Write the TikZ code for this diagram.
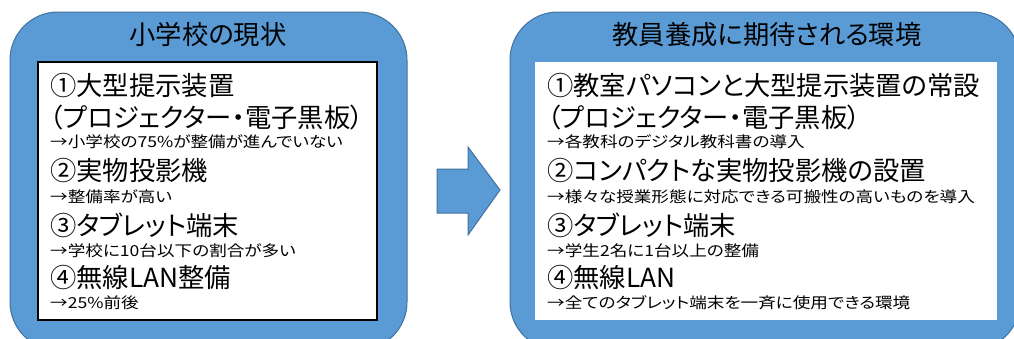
\documentclass[tikz,border=0pt]{standalone}
\usepackage{graphicx}
\usepackage{fontspec}
\setmainfont{Noto Sans CJK JP}[RawFeature=+palt]
\definecolor{boxblue}{HTML}{5B9BD5}
\definecolor{edgeblue}{HTML}{41719C}
\newcommand\squash[1]{\scalebox{1}[0.86]{#1}}
\begin{document}
\begin{tikzpicture}[x=1pt,y=-1pt,
  outer/.style={fill=boxblue,draw=edgeblue,line width=1pt,rounded corners=48pt},
  big/.style={anchor=base west,inner sep=0pt,font=\fontsize{26.3}{30}\selectfont},
  small/.style={anchor=base west,inner sep=0pt,font=\fontsize{17.6}{20}\selectfont},
  ttl/.style={anchor=base,inner sep=0pt,font=\fontsize{26.3}{30}\selectfont}]
\useasboundingbox (0,0) rectangle (1014,338);
% left panel
\draw[outer] (10,12) rectangle (407,350);
\draw[fill=white,draw=black,line width=1.2pt] (38,62) rectangle (377,320);
\node[ttl] (t1) at (208,44) {小学校の現状};
\node[big] (l1) at (50,95.5) {①大型提示装置};
\node[big] (l2) at (50,127.5) {（プロジェクター・電子黒板）};
\node[small] (l3) at (50,147) {\squash{→小学校の75\%が整備が進んでいない}};
\node[big] (l4) at (50,180.5) {②実物投影機};
\node[small] (l5) at (50,202) {\squash{→整備率が高い}};
\node[big] (l6) at (50,235.5) {③タブレット端末};
\node[small] (l7) at (50,256) {\squash{→学校に10台以下の割合が多い}};
\node[big] (l8) at (50,287.5) {④無線LAN整備};
\node[small] (l9) at (50,308) {\squash{→25\%前後}};
% arrow
\draw[fill=boxblue,draw=edgeblue,line width=1pt] (437,169) -- (468,169) -- (468,147) -- (500,190) -- (468,235) -- (468,213) -- (437,213) -- cycle;
% right panel
\draw[outer] (510,12) rectangle (1020,350);
\fill[white] (535,62) rectangle (997,320);
\node[ttl] (t2) at (767,44) {教員養成に期待される環境};
\node[big] (r1) at (547,95.5) {①教室パソコンと大型提示装置の常設};
\node[big] (r2) at (547,127.5) {（プロジェクター・電子黒板）};
\node[small] (r3) at (547,147) {\squash{→各教科のデジタル教科書の導入}};
\node[big] (r4) at (547,180.5) {②コンパクトな実物投影機の設置};
\node[small] (r5) at (547,202) {\squash{→様々な授業形態に対応できる可搬性の高いものを導入}};
\node[big] (r6) at (547,235.5) {③タブレット端末};
\node[small] (r7) at (547,256) {\squash{→学生2名に1台以上の整備}};
\node[big] (r8) at (547,287.5) {④無線LAN};
\node[small] (r9) at (547,308) {\squash{→全てのタブレット端末を一斉に使用できる環境}};
\end{tikzpicture}
\end{document}
